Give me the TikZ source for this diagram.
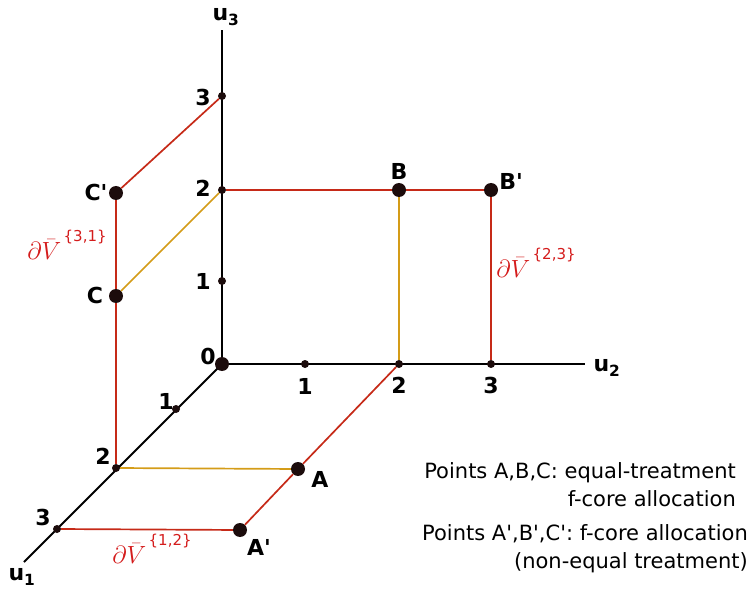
\documentclass[tikz,border=0pt]{standalone}
\usepackage{fontspec}
\setmainfont{DejaVu Sans}
\usetikzlibrary{positioning}
\definecolor{bnd}{HTML}{C62A18}
\definecolor{eqt}{HTML}{D49C18}
\definecolor{lblred}{HTML}{D41C1C}
\definecolor{dotc}{HTML}{1C0C0C}
\newcommand{\bdry}[1]{$\partial\bar V$\kern2.5pt\raisebox{1.3ex}{\fontsize{15}{15}\selectfont\{#1\}}}
\newcommand{\pr}{\textquotesingle}
\tikzset{
  axisln/.style={line width=1.9pt, black},
  bndln/.style={line width=1.7pt, bnd},
  eqln/.style={line width=1.7pt, eqt},
  tickdot/.style={circle, fill=dotc, inner sep=0pt, minimum size=8pt},
  ptdot/.style={circle, fill=dotc, inner sep=0pt, minimum size=14pt},
  numlab/.style={font=\bfseries\fontsize{22}{22}\selectfont, inner sep=0pt},
  axlab/.style={font=\bfseries\fontsize{22}{22}\selectfont, inner sep=0pt},
  bdlab/.style={lblred, font=\fontsize{25}{25}\selectfont, inner sep=0pt},
  legtxt/.style={font=\fontsize{21}{28}\selectfont, align=right, inner sep=0pt},
}

\begin{document}
\begin{tikzpicture}[x=1pt,y=-1pt]
\useasboundingbox (0,0) rectangle (756,591);

% ===================== axes and ticks =======================================
\coordinate (u1end) at (24,562);
\coordinate (u2end) at (585,364);
\coordinate (u3end) at (222,30);
\draw[axisln] (222,364) -- (u1end);
\draw[axisln] (222,364) -- (u2end);
\draw[axisln] (222,364) -- (u3end);
\node[ptdot] (O) at (222,364) {};
\node[tickdot] (a1) at (176,409) {};
\node[tickdot] (a2) at (116,468) {};
\node[tickdot] (a3) at (57,529) {};
\node[tickdot] (b1) at (305,364) {};
\node[tickdot] (b2) at (399,364) {};
\node[tickdot] (b3) at (491,364) {};
\node[tickdot] (c1) at (222,281) {};
\node[tickdot] (c2) at (222,190) {};
\node[tickdot] (c3) at (222,96) {};

\node[axlab] (l1) at (22,577) {u\textsubscript{1}};
\node[axlab] (l2) at (607,368) {u\textsubscript{2}};
\node[axlab] (l3) at (226,17) {u\textsubscript{3}};
\node[numlab] (n0) at (208,356) {0};
\node[numlab] (na1) at (166,401) {1};
\node[numlab] (na2) at (103,456) {2};
\node[numlab] (na3) at (43,517) {3};
\node[numlab] (nb1) at (305,386) {1};
\node[numlab] (nb2) at (399,385) {2};
\node[numlab] (nb3) at (491,385) {3};
\node[numlab] (nc1) at (203,281) {1};
\node[numlab] (nc2) at (203,188) {2};
\node[numlab] (nc3) at (203,97) {3};

% ===================== allocations ==========================================
\node[ptdot] (A)  at (298,469) {};
\node[ptdot] (Ap) at (240,530) {};
\node[ptdot] (B)  at (399,190) {};
\node[ptdot] (Bp) at (491,190) {};
\node[ptdot] (C)  at (116,296) {};
\node[ptdot] (Cp) at (116,193) {};

\draw[bndln] (c3) -- (Cp);
\draw[bndln] (Cp) -- (C);
\draw[bndln] (C) -- (a2);
\draw[eqln] (c2) -- (C);
\draw[bndln] (c2) -- (B);
\draw[bndln] (B) -- (Bp);
\draw[eqln] (B) -- (b2);
\draw[bndln] (Bp) -- (b3);
\draw[eqln] (a2) -- (A);
\draw[bndln] (a3) -- (Ap);
\draw[bndln] (Ap) -- (A);
\draw[bndln] (A) -- (b2);

\node[numlab] (tA)  at (320,479) {A};
\node[numlab] (tAp) at (259,547) {A\pr};
\node[numlab] (tB)  at (399,171) {B};
\node[numlab] (tBp) at (511,181) {B\pr};
\node[numlab] (tC)  at (95,295) {C};
\node[numlab] (tCp) at (96,192) {C\pr};

\node[bdlab] (v31) at (67,245) {\bdry{3,1}};
\node[bdlab] (v23) at (536,263) {\bdry{2,3}};
\node[bdlab] (v12) at (152,549) {\bdry{1,2}};

% ===================== legend ===============================================
\node[legtxt, anchor=north east] (leg1) at (736,462)
  {Points A,B,C: equal-treatment\\f-core allocation};
\node[legtxt, anchor=north east] (leg2) at (748,524)
  {Points A\pr,B\pr,C\pr: f-core allocation\\(non-equal treatment)};

\end{tikzpicture}
\end{document}
